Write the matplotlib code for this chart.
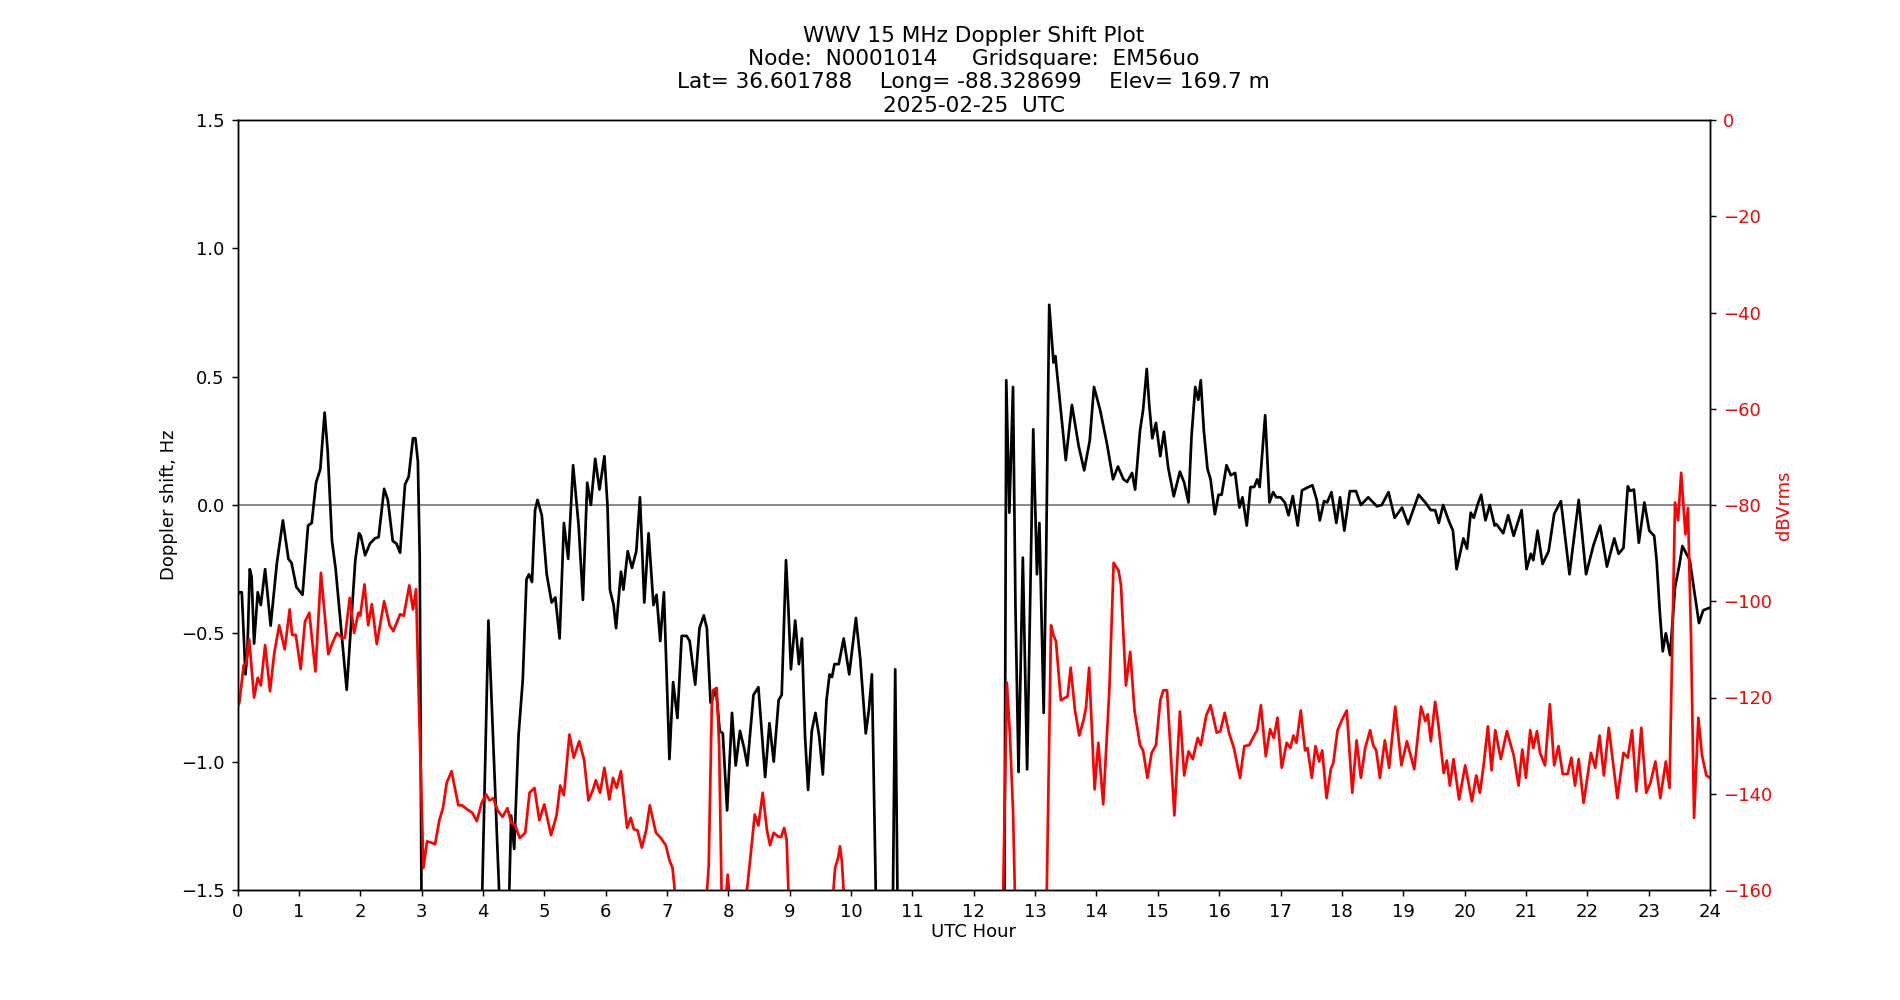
import matplotlib
matplotlib.use("Agg")
import matplotlib.pyplot as plt

# ---------------- data ----------------
doppler_hours = [
    0.0, 0.03, 0.07, 0.13, 0.16, 0.2, 0.23, 0.27, 0.33, 0.38, 0.45, 0.54, 0.64, 0.74, 0.83, 0.88, 0.96,
    1.06, 1.15, 1.21, 1.28, 1.35, 1.42, 1.47, 1.54, 1.6, 1.7, 1.78, 1.85, 1.92, 1.98,
    2.01, 2.08, 2.16, 2.24, 2.3, 2.39, 2.45, 2.53, 2.59, 2.65, 2.73, 2.79, 2.86, 2.9, 2.94, 2.97,
    3.0, 3.1, 3.9, 3.98, 4.09, 4.28, 4.35, 4.42, 4.46, 4.51, 4.58, 4.65, 4.71, 4.75, 4.8, 4.85, 4.89, 4.96,
    5.04, 5.12, 5.18, 5.25, 5.32, 5.39, 5.47, 5.56, 5.63, 5.7, 5.76, 5.83, 5.9, 5.98,
    6.03, 6.07, 6.13, 6.17, 6.25, 6.29, 6.36, 6.43, 6.5, 6.56, 6.63, 6.7, 6.78, 6.83, 6.89, 6.95,
    7.04, 7.1, 7.17, 7.24, 7.32, 7.37, 7.46, 7.53, 7.6, 7.65, 7.71, 7.8, 7.86, 7.91, 7.98,
    8.06, 8.12, 8.19, 8.26, 8.31, 8.41, 8.49, 8.6, 8.67, 8.74, 8.82, 8.87, 8.94, 8.98,
    9.02, 9.09, 9.15, 9.2, 9.25, 9.3, 9.36, 9.42, 9.48, 9.54, 9.6, 9.65, 9.69, 9.73, 9.8, 9.88, 9.97,
    10.08, 10.15, 10.24, 10.29, 10.34, 10.41, 10.5, 10.68, 10.72, 10.76, 10.85,
    12.45, 12.5, 12.53, 12.58, 12.64, 12.68, 12.73, 12.8, 12.87, 12.97,
    13.03, 13.07, 13.14, 13.18, 13.23, 13.3, 13.33, 13.41, 13.5, 13.6, 13.71, 13.8, 13.89, 13.96,
    14.06, 14.17, 14.27, 14.35, 14.44, 14.5, 14.58, 14.63, 14.71, 14.76, 14.82, 14.86, 14.91, 14.97,
    15.04, 15.1, 15.17, 15.26, 15.36, 15.43, 15.5, 15.55, 15.61, 15.66, 15.7, 15.75, 15.81, 15.86, 15.93, 15.99,
    16.04, 16.12, 16.19, 16.26, 16.33, 16.38, 16.45, 16.51, 16.57, 16.62, 16.66, 16.75, 16.82, 16.88, 16.93,
    17.0, 17.07, 17.13, 17.2, 17.28, 17.35, 17.43, 17.52, 17.59, 17.64, 17.71, 17.76, 17.83, 17.91, 17.97,
    18.04, 18.13, 18.23, 18.31, 18.43, 18.57, 18.65, 18.76, 18.86, 18.98,
    19.08, 19.25, 19.36, 19.45, 19.52, 19.58, 19.65, 19.74, 19.81, 19.87, 19.98,
    20.04, 20.1, 20.15, 20.21, 20.27, 20.34, 20.41, 20.49, 20.52, 20.63, 20.71, 20.8, 20.93,
    21.01, 21.08, 21.12, 21.19, 21.27, 21.37, 21.46, 21.57, 21.71, 21.86, 21.98,
    22.1, 22.21, 22.32, 22.44, 22.51, 22.59, 22.66, 22.7, 22.76, 22.84, 22.93,
    23.01, 23.09, 23.13, 23.18, 23.23, 23.28, 23.35, 23.43, 23.5, 23.55, 23.67, 23.74, 23.82, 23.89, 24.0,
]
doppler_hz = [
    -0.35, -0.34, -0.34, -0.66, -0.58, -0.25, -0.28, -0.54, -0.34, -0.39, -0.25, -0.47, -0.23, -0.06, -0.21, -0.225, -0.32,
    -0.35, -0.08, -0.07, 0.087, 0.14, 0.36, 0.21, -0.14, -0.25, -0.51, -0.72, -0.47, -0.215, -0.11,
    -0.12, -0.196, -0.15, -0.13, -0.125, 0.063, 0.02, -0.14, -0.15, -0.186, 0.08, 0.11, 0.26, 0.26, 0.17, -0.2,
    -1.6, -2.0, -2.0, -1.6, -0.45, -1.6, -2.0, -1.6, -1.21, -1.34, -0.9, -0.68, -0.29, -0.27, -0.3, -0.02, 0.02, -0.04,
    -0.27, -0.38, -0.36, -0.52, -0.07, -0.21, 0.155, -0.08, -0.37, 0.087, 0.0, 0.18, 0.06, 0.19,
    0.0, -0.33, -0.39, -0.48, -0.26, -0.33, -0.18, -0.245, -0.18, 0.03, -0.38, -0.11, -0.39, -0.35, -0.53, -0.34,
    -0.99, -0.69, -0.83, -0.51, -0.51, -0.53, -0.7, -0.48, -0.43, -0.48, -0.77, -0.72, -0.88, -0.89, -1.19,
    -0.81, -1.015, -0.88, -0.95, -1.015, -0.74, -0.71, -1.06, -0.85, -1.0, -0.76, -0.74, -0.215, -0.41,
    -0.64, -0.45, -0.62, -0.52, -0.9, -1.11, -0.88, -0.81, -0.9, -1.05, -0.76, -0.66, -0.67, -0.62, -0.62, -0.52, -0.66,
    -0.44, -0.6, -0.89, -0.8, -0.66, -1.6, -2.0, -1.6, -0.64, -1.6, -2.0,
    -2.0, -1.6, 0.486, -0.03, 0.46, -0.4, -1.04, -0.205, -1.03, 0.295,
    -0.27, -0.07, -0.81, -0.2, 0.78, 0.555, 0.58, 0.39, 0.175, 0.39, 0.23, 0.135, 0.25, 0.46,
    0.37, 0.24, 0.1, 0.15, 0.1, 0.09, 0.125, 0.06, 0.29, 0.37, 0.53, 0.39, 0.26, 0.32,
    0.19, 0.285, 0.145, 0.034, 0.13, 0.087, 0.01, 0.27, 0.46, 0.41, 0.486, 0.29, 0.14, 0.1, -0.036, 0.04,
    0.04, 0.155, 0.116, 0.125, -0.01, 0.03, -0.08, 0.07, 0.07, 0.1, 0.07, 0.35, 0.01, 0.05, 0.03,
    0.03, 0.01, -0.04, 0.035, -0.08, 0.057, 0.067, 0.077, 0.02, -0.06, 0.015, 0.01, 0.05, -0.07, 0.03,
    -0.1, 0.054, 0.054, 0.0, 0.03, -0.005, 0.0, 0.05, -0.05, -0.01,
    -0.075, 0.04, 0.01, -0.02, -0.02, -0.07, 0.0, -0.06, -0.1, -0.25, -0.13,
    -0.17, -0.03, -0.05, 0.0, 0.04, -0.06, 0.0, -0.08, -0.075, -0.11, -0.04, -0.12, -0.02,
    -0.25, -0.19, -0.215, -0.1, -0.23, -0.18, -0.035, 0.015, -0.27, 0.02, -0.27,
    -0.157, -0.08, -0.24, -0.13, -0.19, -0.167, 0.073, 0.055, 0.06, -0.147, 0.01,
    -0.1, -0.12, -0.215, -0.41, -0.57, -0.5, -0.585, -0.32, -0.235, -0.16, -0.215, -0.33, -0.46, -0.41, -0.4,
]

power_hours = [
    0.0, 0.03, 0.1, 0.14, 0.19, 0.27, 0.33, 0.38, 0.45, 0.53, 0.6, 0.68, 0.77, 0.85, 0.89, 0.95,
    1.03, 1.1, 1.17, 1.27, 1.36, 1.48, 1.55, 1.62, 1.7, 1.75, 1.83, 1.9, 1.97,
    2.0, 2.07, 2.13, 2.19, 2.27, 2.39, 2.48, 2.54, 2.65, 2.71, 2.8, 2.86, 2.91, 2.96,
    3.03, 3.09, 3.17, 3.22, 3.29, 3.35, 3.41, 3.49, 3.55, 3.6, 3.66, 3.74, 3.83, 3.9, 3.98,
    4.05, 4.11, 4.17, 4.24, 4.32, 4.4, 4.46, 4.52, 4.6, 4.69, 4.76, 4.84, 4.92,
    5.0, 5.11, 5.2, 5.26, 5.32, 5.41, 5.48, 5.57, 5.65, 5.72, 5.79, 5.84, 5.91, 5.98,
    6.06, 6.12, 6.18, 6.25, 6.31, 6.35, 6.41, 6.46, 6.52, 6.59, 6.66, 6.72, 6.82, 6.9, 6.98,
    7.04, 7.09, 7.13, 7.2, 7.6, 7.68, 7.73, 7.75, 7.81, 7.85, 7.89, 7.94, 7.99,
    8.04, 8.1, 8.28, 8.3, 8.38, 8.43, 8.49, 8.56, 8.63, 8.68, 8.74, 8.81, 8.86, 8.91, 8.95, 8.98,
    9.05, 9.65, 9.71, 9.74, 9.79, 9.82, 9.85, 9.88, 9.95,
    12.42, 12.48, 12.54, 12.59, 12.64, 12.67, 12.75,
    13.12, 13.19, 13.26, 13.3, 13.34, 13.42, 13.48, 13.53, 13.58, 13.65, 13.72, 13.79, 13.83, 13.88, 13.97,
    14.03, 14.11, 14.21, 14.28, 14.36, 14.4, 14.48, 14.55, 14.62, 14.71, 14.76, 14.83, 14.9, 14.97,
    15.04, 15.09, 15.15, 15.2, 15.27, 15.36, 15.43, 15.5, 15.57, 15.65, 15.7, 15.79, 15.86, 15.96,
    16.02, 16.09, 16.16, 16.24, 16.34, 16.41, 16.49, 16.57, 16.62, 16.68, 16.76, 16.83, 16.89, 16.95,
    17.02, 17.1, 17.16, 17.21, 17.26, 17.33, 17.4, 17.44, 17.51, 17.57, 17.63, 17.68, 17.75, 17.82, 17.86, 17.93,
    18.0, 18.08, 18.17, 18.24, 18.31, 18.38, 18.46, 18.51, 18.56, 18.62, 18.7, 18.77, 18.87, 18.97,
    19.06, 19.18, 19.29, 19.36, 19.4, 19.45, 19.52, 19.57, 19.66, 19.71, 19.76, 19.82, 19.91,
    20.01, 20.12, 20.19, 20.25, 20.31, 20.38, 20.44, 20.5, 20.59, 20.69, 20.8, 20.88, 20.94,
    21.0, 21.07, 21.12, 21.18, 21.23, 21.31, 21.39, 21.46, 21.53, 21.6, 21.68, 21.74, 21.8, 21.86, 21.94,
    22.06, 22.13, 22.2, 22.27, 22.35, 22.42, 22.49, 22.59, 22.66, 22.73, 22.8, 22.88, 22.96,
    23.03, 23.11, 23.19, 23.28, 23.34, 23.38, 23.43, 23.48, 23.53, 23.6, 23.64, 23.69, 23.74, 23.81, 23.87, 23.94, 24.0,
]
power_dbv = [
    -122, -121.1, -113.3, -113, -107.9, -120, -115.9, -117.5, -109.1, -118.7, -110.7, -105, -110, -101.7, -107, -107,
    -114.1, -104.2, -102.4, -114.6, -94.1, -111, -108.6, -106.6, -107.6, -107.6, -99.3, -106.6, -102.4,
    -103, -96.5, -105, -100.6, -108.9, -100, -105, -106.2, -102.7, -103, -96.7, -101.7, -97.5, -122.7,
    -155.4, -149.9, -150.2, -150.5, -145.5, -142.9, -137.7, -135.3, -139.3, -142.4, -142.4, -143.2, -144, -145.7, -141.9,
    -140.1, -141.4, -140.9, -143.5, -144.8, -143, -146, -146.4, -149.2, -148.1, -139.8, -138.8, -145.5,
    -142.2, -148.6, -144.5, -138.3, -140.3, -127.7, -132.5, -129.1, -133, -141.4, -139.3, -137.2, -139.8, -134.6,
    -141.2, -136.7, -138.8, -135.3, -142.4, -147.1, -145, -147.4, -147.6, -151.2, -147.6, -142.4, -148.1, -149.2, -150.7,
    -153.8, -155.4, -160.5, -170, -170, -155, -122, -118.5, -118, -130, -160.5, -165, -156.8,
    -165, -170, -170, -160.5, -150.7, -144.3, -146.6, -139.8, -147.6, -150.7, -148.1, -148.9, -149, -147.1, -149.5, -160.5,
    -170, -170, -160.5, -155.4, -153.3, -150.9, -154, -160.5, -170,
    -170, -160.5, -116.9, -127.9, -143.5, -160.5, -170,
    -170, -160.5, -105, -107.1, -108.3, -120.6, -120.1, -119.8, -113.8, -122.7, -127.9, -124.7, -122.1, -113.8, -139.1,
    -129.4, -142.2, -118.5, -92, -93.6, -96.7, -117.5, -110.5, -122.7, -129.9, -131, -136.7, -131.5, -129.9,
    -120.6, -118.5, -118.5, -129.4, -144.5, -122.9, -136.2, -131.2, -132.8, -128.4, -129.9, -123.7, -121.6, -127.3,
    -127, -123.2, -127.3, -130.5, -136.7, -130.1, -129.9, -127.9, -126.8, -121.6, -132.2, -126.6, -128.4, -124.2,
    -134.6, -129.4, -130.5, -127.9, -129.4, -122.7, -131, -130.5, -136.7, -130.1, -133.3, -131, -140.9, -134.9, -133.6, -126.8,
    -124.7, -122.7, -139.8, -128.9, -136.7, -130.5, -126.8, -129.9, -131, -136.7, -128.9, -134.6, -121.9, -134.1,
    -129.1, -134.9, -121.9, -124.9, -123.5, -129.1, -120.9, -125.3, -135.7, -133.1, -138.3, -132.8, -141.2,
    -134.1, -141.6, -136.2, -139.8, -134.1, -126, -135.1, -126.8, -132.8, -127, -132, -138.3, -130.8,
    -136.7, -126.8, -130.5, -127, -131.5, -134.1, -121.4, -134.1, -130.1, -135.9, -135.9, -132.5, -138.3, -132.8, -141.9,
    -131.5, -134.6, -127.9, -136.2, -126.3, -133.6, -140.9, -131.5, -132.5, -126.8, -139.5, -126.3, -139.8,
    -137.7, -133.3, -140.9, -133.3, -138.8, -112.3, -79.5, -83.2, -73.3, -86.1, -80.6, -107, -145, -124.2, -132, -136.2, -136.7,
]

title_lines = [
    "WWV 15 MHz Doppler Shift Plot",
    "Node:  N0001014     Gridsquare:  EM56uo",
    "Lat= 36.601788    Long= -88.328699    Elev= 169.7 m",
    "2025-02-25  UTC",
]
x_ticks = list(range(0, 25))
left_ticks = [-1.5, -1.0, -0.5, 0.0, 0.5, 1.0, 1.5]
right_ticks = [0, -20, -40, -60, -80, -100, -120, -140, -160]

# ---------------- style ----------------
S = 1.3
plt.rcParams.update({
    "font.family": "DejaVu Sans",
    "font.size": 10 * S,
    "axes.linewidth": 0.8 * S,
    "xtick.major.size": 3.5 * S,
    "ytick.major.size": 3.5 * S,
    "xtick.major.width": 0.8 * S,
    "ytick.major.width": 0.8 * S,
    "xtick.major.pad": 3.5 * S,
    "ytick.major.pad": 3.5 * S,
    "axes.labelpad": 2.0,
})

fig, ax = plt.subplots(figsize=(19, 10), dpi=100)
fig.subplots_adjust(left=0.125, right=0.9, bottom=0.11, top=0.88)

ax.axhline(0, color="grey", linewidth=1.0 * S)
ax.plot(doppler_hours, doppler_hz, color="black", linewidth=1.5 * S)
ax.set_xlim(0, 24)
ax.set_ylim(-1.5, 1.5)
ax.set_xticks(x_ticks)
ax.set_yticks(left_ticks)
ax.set_xlabel("UTC Hour")
ax.set_ylabel("Doppler shift, Hz")
ax.set_title("\n".join(title_lines), fontsize=12 * S, pad=6.0)

ax2 = ax.twinx()
ax2.plot(power_hours, power_dbv, color="red", linewidth=1.5 * S)
ax2.set_ylim(-160, 0)
ax2.set_yticks(right_ticks)
ax2.tick_params(axis="y", labelcolor="red")
ax2.set_ylabel("dBVrms", color="red")

fig.savefig("out.png", dpi=100)
